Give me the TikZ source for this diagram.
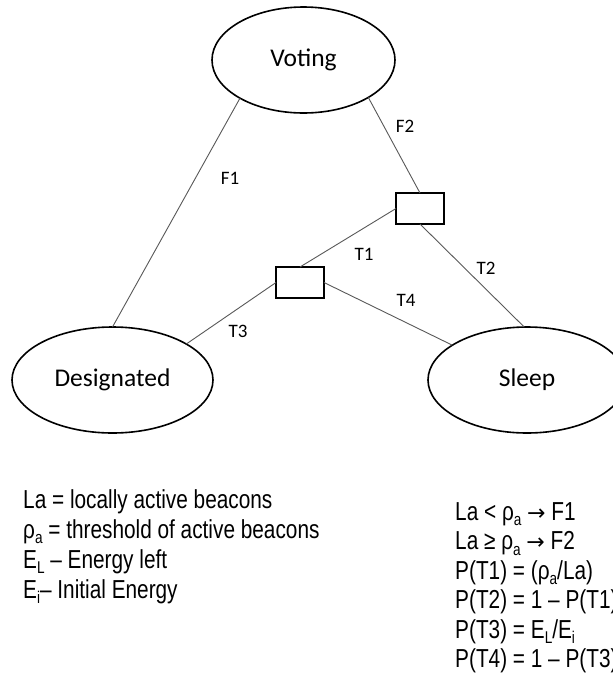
\documentclass[tikz,border=0pt]{standalone}
\usepackage{fontspec}
\setmainfont{Carlito}
\newfontfamily\legendfont[FakeStretch=0.8]{Liberation Sans}
\newfontfamily\arrowfont{DejaVu Sans}
\usetikzlibrary{shapes.geometric}

% lowered small text for the subscripts of the legend
\newcommand\lsub[1]{\raisebox{-0.22em}{\fontsize{17}{17}\selectfont #1}}
% implication arrow of the rules
\newcommand\impl{{\arrowfont\fontsize{22}{30}\selectfont →}}

\begin{document}
\begin{tikzpicture}[x=1pt,y=-1pt,
  state/.style={ellipse, draw, line width=1.6pt, inner sep=0pt, outer sep=0pt,
                minimum height=106pt, font=\fontsize{25.5}{30}\selectfont},
  gate/.style={rectangle, draw, line width=1.6pt, minimum width=48pt,
               minimum height=31pt, inner sep=0pt, outer sep=0pt},
  link/.style={draw=black!65, line width=0.9pt},
  lab/.style={font=\fontsize{19}{22}\selectfont, inner sep=0pt},
  legend/.style={font=\legendfont\fontsize{26}{30}\selectfont,
                 anchor=base west, inner sep=0pt}]

\fill[white] (0,0) rectangle (613,686);
\clip (0,0) rectangle (613,686);

% states
\node[state, minimum width=183pt] (voting) at (303.5,60) {Voting};
\node[state, minimum width=201pt] (designated) at (112.5,380) {Designated};
\node[state, minimum width=198pt] (sleep) at (527,380) {Sleep};

% decision boxes
\node[gate] (g1) at (420,208.5) {};
\node[gate] (g2) at (300,282.5) {};

% transitions
\draw[link] (voting.211) -- (designated.90);
\draw[link] (voting.330) -- (g1.north);
\draw[link] (g1.west) -- (g2.north);
\draw[link] (g1.south) -- (sleep.93);
\draw[link] (g2.west) -- (designated.26);
\draw[link] (g2.east) -- (sleep.155);

% transition labels
\node[lab] (lf1) at (230,178.5) {F1};
\node[lab] (lf2) at (405,126) {F2};
\node[lab] (lt1) at (364,254) {T1};
\node[lab] (lt2) at (486,268) {T2};
\node[lab] (lt3) at (238,331) {T3};
\node[lab] (lt4) at (406,300) {T4};

% legend: symbols
\node[legend] (k1) at (23,508) {La = locally active beacons};
\node[legend] (k2) at (23,538) {ρ\lsub{a} = threshold of active beacons};
\node[legend] (k3) at (23,568) {E\lsub{L} – Energy left};
\node[legend] (k4) at (23,598) {E\lsub{i}– Initial Energy};

% legend: rules
\node[legend] (r1) at (455,520) {La < ρ\lsub{a} \impl\ F1};
\node[legend] (r2) at (455,549.5) {La ≥ ρ\lsub{a} \impl\ F2};
\node[legend] (r3) at (455,579) {P(T1) = (ρ\lsub{a}/La)};
\node[legend] (r4) at (455,608.5) {P(T2) = 1 – P(T1)};
\node[legend] (r5) at (455,638) {P(T3) = E\lsub{L}/E\lsub{i}};
\node[legend] (r6) at (455,667.5) {P(T4) = 1 – P(T3)};
\end{tikzpicture}
\end{document}
